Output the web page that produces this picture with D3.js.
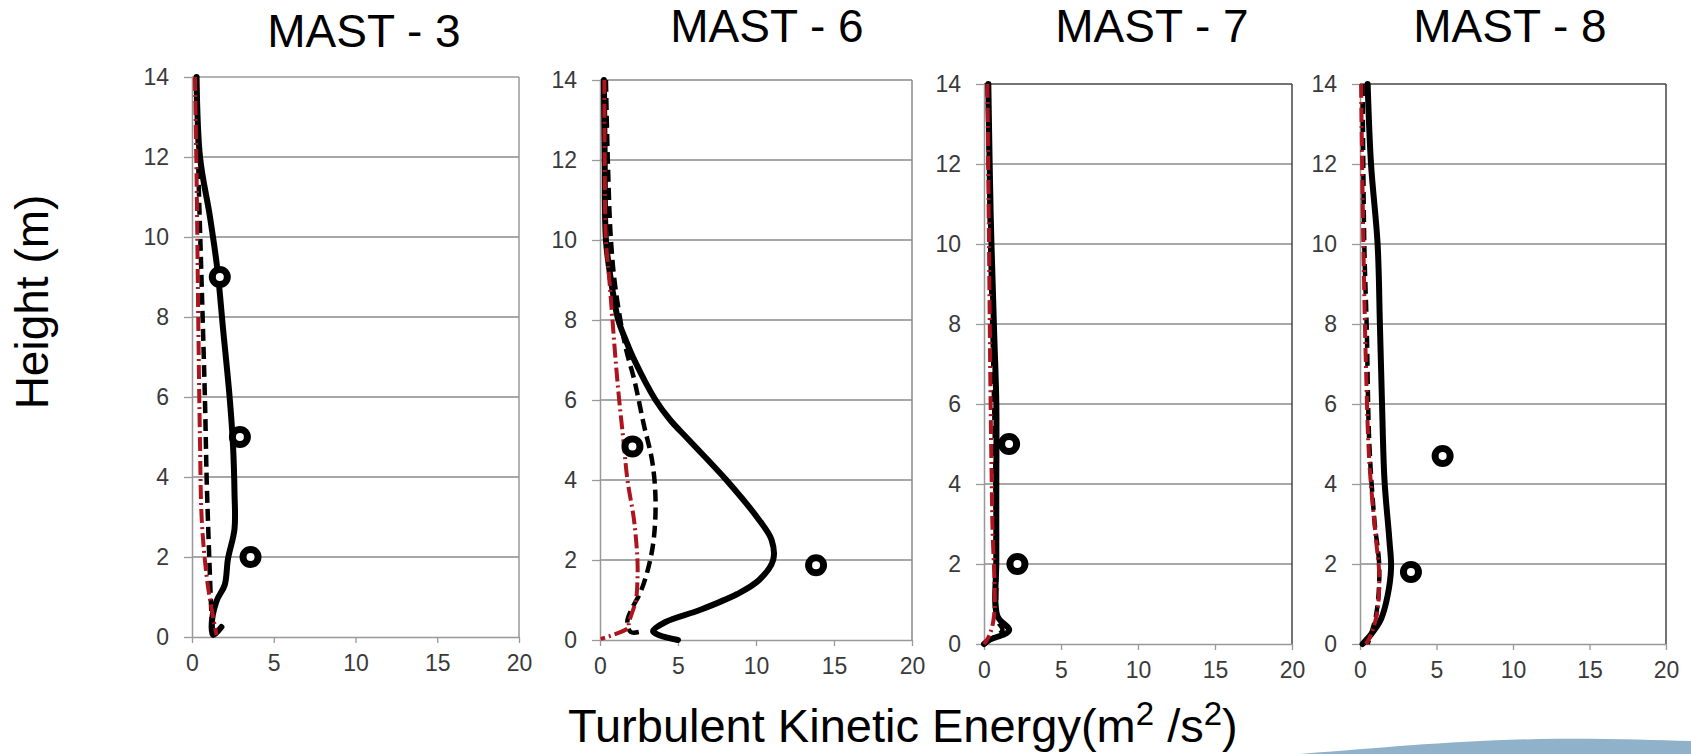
<!DOCTYPE html>
<html lang="en">
  <head>
    <meta charset="UTF-8" />
    <title>TKE profiles by mast</title>
    <script src="https://d3js.org/d3.v7.min.js"></script>
    <style>
      body {
        margin: 0;
        padding: 0;
        background: #fff;
      }
      svg {
        display: block;
        font-family: "Liberation Sans", Arial, sans-serif;
      }
      .tick text {
        font-size: 23px;
        fill: #3a3a3a;
      }
      .title {
        font-size: 46px;
        fill: #000;
      }
      .axis-title {
        font-size: 46px;
        fill: #000;
      }
    </style>
  </head>
  <body>
    <svg width="1691" height="754"></svg>
    <script>
      const panelNames = ["MAST - 3", "MAST - 6", "MAST - 7", "MAST - 8"];
      const xTickValues = [0, 5, 10, 15, 20];
      const yTickValues = [0, 2, 4, 6, 8, 10, 12, 14];

      // [TKE, height] pairs
      const mast3Solid = [[0.28,14],[0.49,12],[1.1,10.5],[1.55,9.2],[1.9,7.7],[2.3,6],[2.5,4.85],[2.6,3.6],[2.6,2.7],[2.2,1.95],[2.0,1.3],[1.5,0.9],[1.2,0.25],[1.3,0.05],[1.8,0.25]];
      const mast3Dashed = [[0.28,14],[0.4,11.5],[0.6,8.7],[0.8,5.8],[0.9,3.9],[1.1,1.5],[1.2,0.5],[1.3,0.05]];
      const mast3DashDot = [[0.18,14],[0.28,11.5],[0.39,7.7],[0.49,4.85],[0.6,2.9],[0.9,1.5],[1.2,0.7],[1.5,0.05]];
      const mast3Obs = [[1.7,9],[2.93,5],[3.58,2]];

      const mast6Solid = [[0.25,14],[0.3,12],[0.38,10],[0.7,9],[1.17,8],[1.65,7.5],[2.2,7],[3.56,6],[4.5,5.5],[5.7,5],[8.1,4],[10.2,3],[11.0,2.5],[11.1,2],[10.2,1.5],[8.8,1.15],[6.4,0.75],[4.2,0.45],[3.4,0.22],[3.8,0.12],[5.0,0]];
      const mast6Dashed = [[0.38,14],[0.5,12],[0.7,10],[1.0,8.77],[1.65,7.3],[2.2,6.5],[2.8,5.4],[3.35,4.46],[3.56,3.5],[3.45,2.54],[3.14,1.87],[2.6,1.2],[2.0,0.75],[1.75,0.45],[1.97,0.2],[2.5,0.2]];
      const mast6DashDot = [[0.28,14],[0.3,12],[0.38,10],[0.6,9],[0.8,8],[1.0,7],[1.23,6],[1.5,5],[1.76,4],[2.18,3],[2.4,2],[2.4,1.5],[2.3,1],[1.85,0.43],[1.8,0.3],[0.05,0.03]];
      const mast6Obs = [[2.08,4.84],[13.85,1.87]];

      const mast7Solid = [[0.28,14],[0.43,10.8],[0.65,7.9],[0.8,6],[0.8,4],[0.8,2.1],[0.87,0.7],[1.63,0.34],[0.33,0.1],[0,0]];
      const mast7Dashed = [[0.25,14],[0.4,10],[0.6,7],[0.75,4],[0.8,1.5],[0.85,0.6],[1.2,0.35],[0.4,0.1],[0.05,0]];
      const mast7DashDot = [[0.22,14],[0.33,9.8],[0.43,6],[0.54,3.1],[0.65,0.7],[0.33,0.2],[0,0]];
      const mast7Obs = [[1.63,5],[2.17,2]];

      const mast8Solid = [[0.5,14],[0.72,12],[1.15,10],[1.3,8],[1.44,6],[1.6,4.1],[1.92,2.6],[2.03,1.9],[1.8,1.2],[1.37,0.62],[0.72,0.24],[0.17,0]];
      const mast8Dashed = [[0.17,14],[0.28,10],[0.44,7.9],[0.61,5],[0.94,3.1],[1.26,1.9],[1.05,0.72],[0.5,0]];
      const mast8DashDot = [[0.07,14],[0.22,10],[0.39,6.95],[0.61,4.55],[1.05,2.6],[1.26,1.7],[1.09,0.72],[0.61,0.14],[0.39,0]];
      const mast8Obs = [[5.4,4.7],[3.33,1.8]];

      const panels = [
        { name: panelNames[0], solid: mast3Solid, dashed: mast3Dashed, dashDot: mast3DashDot, obs: mast3Obs },
        { name: panelNames[1], solid: mast6Solid, dashed: mast6Dashed, dashDot: mast6DashDot, obs: mast6Obs },
        { name: panelNames[2], solid: mast7Solid, dashed: mast7Dashed, dashDot: mast7DashDot, obs: mast7Obs },
        { name: panelNames[3], solid: mast8Solid, dashed: mast8Dashed, dashDot: mast8DashDot, obs: mast8Obs },
      ];

      // plot frames in page pixels
      const frames = [
        { left: 192, right: 519, top: 77, bottom: 637, titleX: 364, titleY: 47, border: "#999" },
        { left: 600, right: 912, top: 80, bottom: 640, titleX: 767, titleY: 42, border: "#888" },
        { left: 984, right: 1292, top: 84, bottom: 644, titleX: 1152, titleY: 42, border: "#444" },
        { left: 1360, right: 1666, top: 84, bottom: 644, titleX: 1510, titleY: 42, border: "#444" },
      ];

      const svg = d3.select("svg");

      // decorative swoosh in the lower right corner
      svg
        .append("path")
        .attr("d", "M1300,754 C1380,748 1450,741 1540,739 C1600,738 1650,740 1691,741 L1691,754 Z")
        .attr("fill", "#8fb1c9");

      panels.forEach((p, i) => {
        const f = frames[i];
        const x = d3.scaleLinear().domain([0, 20]).range([f.left, f.right]);
        const y = d3.scaleLinear().domain([0, 14]).range([f.bottom, f.top]);
        const g = svg.append("g");

        // gridlines
        g.selectAll(".grid")
          .data(yTickValues.filter((v) => v > 0 && v < 14))
          .join("line")
          .attr("x1", f.left)
          .attr("x2", f.right)
          .attr("y1", (d) => y(d))
          .attr("y2", (d) => y(d))
          .attr("stroke", "#8a8a8a")
          .attr("stroke-width", 1.3);

        // frame
        g.append("line")
          .attr("x1", f.left).attr("x2", f.right)
          .attr("y1", f.top).attr("y2", f.top)
          .attr("stroke", f.border).attr("stroke-width", 1.5);
        g.append("line")
          .attr("x1", f.right).attr("x2", f.right)
          .attr("y1", f.top).attr("y2", f.bottom)
          .attr("stroke", f.border).attr("stroke-width", 1.5);

        const yAxis = g
          .append("g")
          .attr("transform", `translate(${f.left},0)`)
          .call(d3.axisLeft(y).tickValues(yTickValues).tickSize(8).tickPadding(15).tickSizeOuter(0));
        yAxis.select(".domain").attr("stroke", "#999").attr("stroke-width", 1.5);
        yAxis.selectAll(".tick line").attr("stroke", "#999").attr("stroke-width", 1.3);

        const xAxis = g
          .append("g")
          .attr("transform", `translate(0,${f.bottom})`)
          .call(d3.axisBottom(x).tickValues(xTickValues).tickSize(6).tickPadding(12).tickSizeOuter(0));
        xAxis.select(".domain").attr("stroke", "#999").attr("stroke-width", 1.5);
        xAxis.selectAll(".tick line").attr("stroke", "#999").attr("stroke-width", 1.3);
        g.selectAll(".tick text").attr("font-family", null).attr("font-size", null);

        const line = d3
          .line()
          .x((d) => x(d[0]))
          .y((d) => y(d[1]))
          .curve(d3.curveCatmullRom.alpha(0.5));

        g.append("path")
          .attr("d", line(p.solid))
          .attr("fill", "none")
          .attr("stroke", "#000")
          .attr("stroke-width", 6)
          .attr("stroke-linejoin", "round")
          .attr("stroke-linecap", "round");

        g.append("path")
          .attr("d", line(p.dashed))
          .attr("fill", "none")
          .attr("stroke", "#000")
          .attr("stroke-width", 4.5)
          .attr("stroke-dasharray", "12,6");

        g.append("path")
          .attr("d", line(p.dashDot))
          .attr("fill", "none")
          .attr("stroke", "#ad141c")
          .attr("stroke-width", 4)
          .attr("stroke-dasharray", "14,4,2,4");

        g.selectAll(".obs")
          .data(p.obs)
          .join("circle")
          .attr("cx", (d) => x(d[0]))
          .attr("cy", (d) => y(d[1]))
          .attr("r", 7.5)
          .attr("fill", "#fff")
          .attr("stroke", "#000")
          .attr("stroke-width", 7);

        svg
          .append("text")
          .attr("class", "title")
          .attr("x", f.titleX)
          .attr("y", f.titleY)
          .attr("text-anchor", "middle")
          .text(p.name);
      });

      svg
        .append("text")
        .attr("class", "axis-title")
        .attr("transform", "translate(48,302) rotate(-90)")
        .attr("text-anchor", "middle")
        .text("Height (m)");

      const xt = svg
        .append("text")
        .attr("class", "axis-title")
        .attr("x", 568)
        .attr("y", 742)
        .style("font-size", "47px");
      xt.append("tspan").text("Turbulent Kinetic Energy(m");
      xt.append("tspan").attr("font-size", 33).style("font-size", "33px").attr("dy", -17).text("2");
      xt.append("tspan").attr("dy", 17).text(" /s");
      xt.append("tspan").style("font-size", "33px").attr("dy", -17).text("2");
      xt.append("tspan").attr("dy", 17).text(")");
    </script>
  </body>
</html>
